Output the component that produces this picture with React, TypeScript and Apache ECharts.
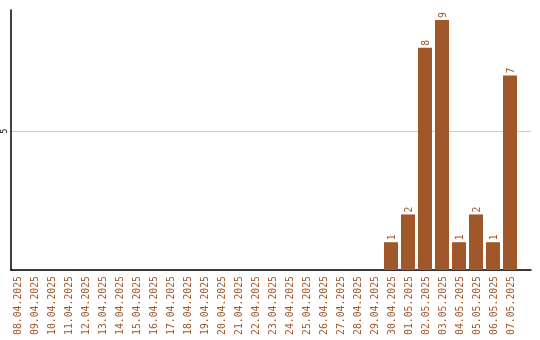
import React, { useEffect, useRef } from "react";
import * as echarts from "echarts";

const categories = [
  "08.04.2025", "09.04.2025", "10.04.2025", "11.04.2025", "12.04.2025",
  "13.04.2025", "14.04.2025", "15.04.2025", "16.04.2025", "17.04.2025",
  "18.04.2025", "19.04.2025", "20.04.2025", "21.04.2025", "22.04.2025",
  "23.04.2025", "24.04.2025", "25.04.2025", "26.04.2025", "27.04.2025",
  "28.04.2025", "29.04.2025", "30.04.2025", "01.05.2025", "02.05.2025",
  "03.05.2025", "04.05.2025", "05.05.2025", "06.05.2025", "07.05.2025",
];
const values = [
  0, 0, 0, 0, 0, 0, 0, 0, 0, 0,
  0, 0, 0, 0, 0, 0, 0, 0, 0, 0,
  0, 0, 1, 2, 8, 9, 1, 2, 1, 7,
];
const yTickLabels = ["5"];
const yMax = 9.36;
const yTickMax = 10;

const COLOR = "#a0572a";
const FONT = "'DejaVu Sans Mono', monospace";

const PLOT_BOTTOM = 270;
const PLOT_H = 260;
const TICK_H = (PLOT_H * yTickMax) / yMax;

export default function App() {
  const ref = useRef<HTMLDivElement>(null);
  useEffect(() => {
    document.body.style.margin = "0";
    if (!ref.current) return;
    const chart = echarts.init(ref.current, null, { renderer: "svg" });
    chart.setOption({
      animation: false,
      grid: [
        { left: 8.5, top: PLOT_BOTTOM - PLOT_H, width: 510, height: PLOT_H, outerBoundsMode: "none", containLabel: false },
        { left: 11, top: PLOT_BOTTOM - PLOT_H, width: 520, height: PLOT_H, outerBoundsMode: "none", containLabel: false },
        { left: 11, top: PLOT_BOTTOM - TICK_H, width: 520, height: TICK_H, outerBoundsMode: "none", containLabel: false },
      ],
      xAxis: [
        {
          type: "category",
          gridIndex: 0,
          data: categories,
          axisLine: { show: false },
          axisTick: { show: false },
          axisLabel: {
            rotate: 90,
            interval: 0,
            color: COLOR,
            fontFamily: FONT,
            fontSize: 9.8,
            margin: 6,
          },
        },
        {
          type: "value",
          gridIndex: 1,
          min: 0,
          max: 1,
          axisLine: { show: true, onZero: false, lineStyle: { color: "#000", width: 1.5 } },
          axisTick: { show: false },
          axisLabel: { show: false },
          splitLine: { show: false },
        },
        {
          type: "value",
          gridIndex: 2,
          min: 0,
          max: 1,
          show: false,
        },
      ],
      yAxis: [
        {
          type: "value",
          gridIndex: 0,
          min: 0,
          max: yMax,
          show: false,
          splitLine: { show: false },
        },
        {
          type: "value",
          gridIndex: 1,
          min: 0,
          max: yMax,
          axisLine: { show: true, lineStyle: { color: "#000", width: 1.5 } },
          axisTick: { show: false },
          axisLabel: { show: false },
          splitLine: { show: false },
        },
        {
          type: "value",
          gridIndex: 2,
          min: 0,
          max: yTickMax,
          interval: 5,
          axisLine: { show: false },
          axisTick: { show: false },
          axisLabel: {
            show: true,
            rotate: 90,
            color: "#000",
            fontFamily: FONT,
            fontSize: 8,
            margin: 3,
            hideOverlap: false,
            formatter: (v: number) => (yTickLabels.includes(String(v)) ? String(v) : ""),
          },
          splitLine: { show: true, lineStyle: { color: "#c8c8c8", width: 1 } },
          z: 0,
        },
      ],
      series: [
        {
          type: "bar",
          xAxisIndex: 0,
          yAxisIndex: 0,
          data: values,
          barWidth: 14,
          itemStyle: { color: COLOR },
          z: 3,
          label: {
            show: true,
            position: "top",
            rotate: 90,
            align: "left",
            verticalAlign: "middle",
            distance: 2,
            color: COLOR,
            fontFamily: FONT,
            fontSize: 9.8,
            formatter: (p: any) => (p.value > 0 ? String(p.value) : ""),
          },
        },
      ],
    });
    return () => chart.dispose();
  }, []);
  return (
    <div
      ref={ref}
      style={{ position: "fixed", left: 0, top: 0, width: 540, height: 340 }}
    />
  );
}
